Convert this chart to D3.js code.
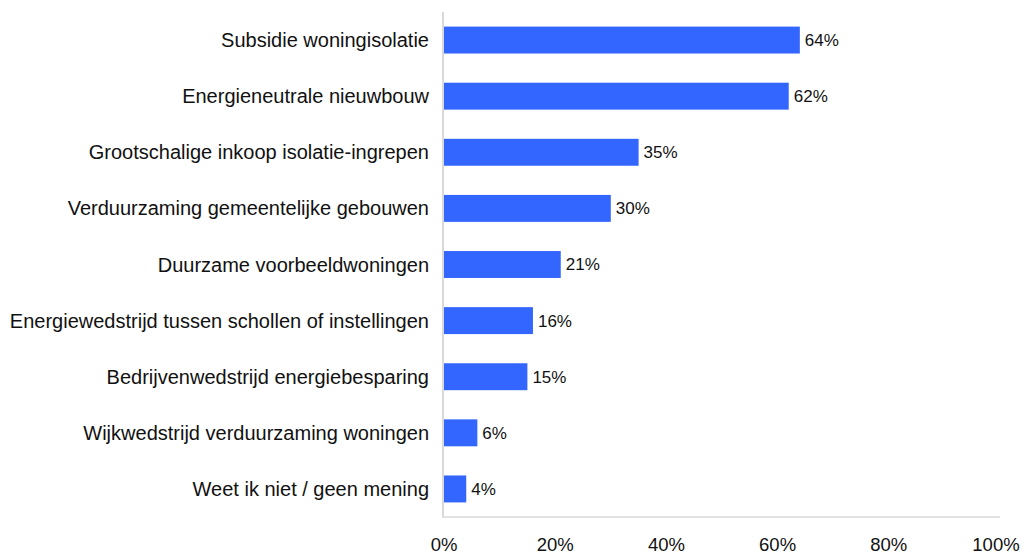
<!DOCTYPE html>
<html><head><meta charset="utf-8">
<script src="https://cdn.jsdelivr.net/npm/d3@7"></script>
<style>body{margin:0;background:#fff}svg{display:block}</style>
</head><body>
<script>
const categories = [
  "Subsidie woningisolatie",
  "Energieneutrale nieuwbouw",
  "Grootschalige inkoop isolatie-ingrepen",
  "Verduurzaming gemeentelijke gebouwen",
  "Duurzame voorbeeldwoningen",
  "Energiewedstrijd tussen schollen of instellingen",
  "Bedrijvenwedstrijd energiebesparing",
  "Wijkwedstrijd verduurzaming woningen",
  "Weet ik niet / geen mening"
];
const values = [64, 62, 35, 30, 21, 16, 15, 6, 4];
const tickValues = [0, 20, 40, 60, 80, 100];

(function () {
const W = 1027, H = 554;
const mLeft = 444, mRight = 1000, mTop = 12, mBottom = 517;
const svg = d3.select("body").append("svg").attr("width", W).attr("height", H)
  .style("font-family", "'Liberation Sans', Arial, sans-serif");

const x = d3.scaleLinear().domain([0, 100]).range([mLeft, mRight]);
const y = d3.scaleBand().domain(categories).range([mTop, mBottom]).paddingInner(0.52).paddingOuter(0.26);

svg.append("g").selectAll("rect").data(values).join("rect")
  .attr("x", x(0)).attr("y", (d, i) => y(categories[i]))
  .attr("width", d => x(d) - x(0)).attr("height", y.bandwidth())
  .attr("fill", "#3366ff");

svg.append("line").attr("x1", x(0) - 1).attr("x2", x(0) - 1).attr("y1", mTop).attr("y2", mBottom)
  .attr("stroke", "#d9d9d9").attr("stroke-width", 2);
svg.append("line").attr("x1", x(0) - 2).attr("x2", x(100)).attr("y1", mBottom).attr("y2", mBottom)
  .attr("stroke", "#d9d9d9").attr("stroke-width", 1.5);

svg.append("g").selectAll("text").data(categories).join("text")
  .attr("x", 429).attr("y", d => y(d) + y.bandwidth() / 2)
  .attr("dy", "0.35em").attr("text-anchor", "end")
  .attr("font-size", 20).attr("fill", "#111").text(d => d);

svg.append("g").selectAll("text").data(values).join("text")
  .attr("x", d => x(d) + 5).attr("y", (d, i) => y(categories[i]) + y.bandwidth() / 2)
  .attr("dy", "0.35em").attr("font-size", 17).attr("fill", "#111").text(d => d + "%");

svg.append("g").selectAll("text").data(tickValues).join("text")
  .attr("x", d => d === 100 ? x(d) - 4 : x(d)).attr("y", 551)
  .attr("text-anchor", "middle").attr("font-size", 18.5).attr("fill", "#111")
  .text(d => d + "%");
})();
</script>
</body></html>
